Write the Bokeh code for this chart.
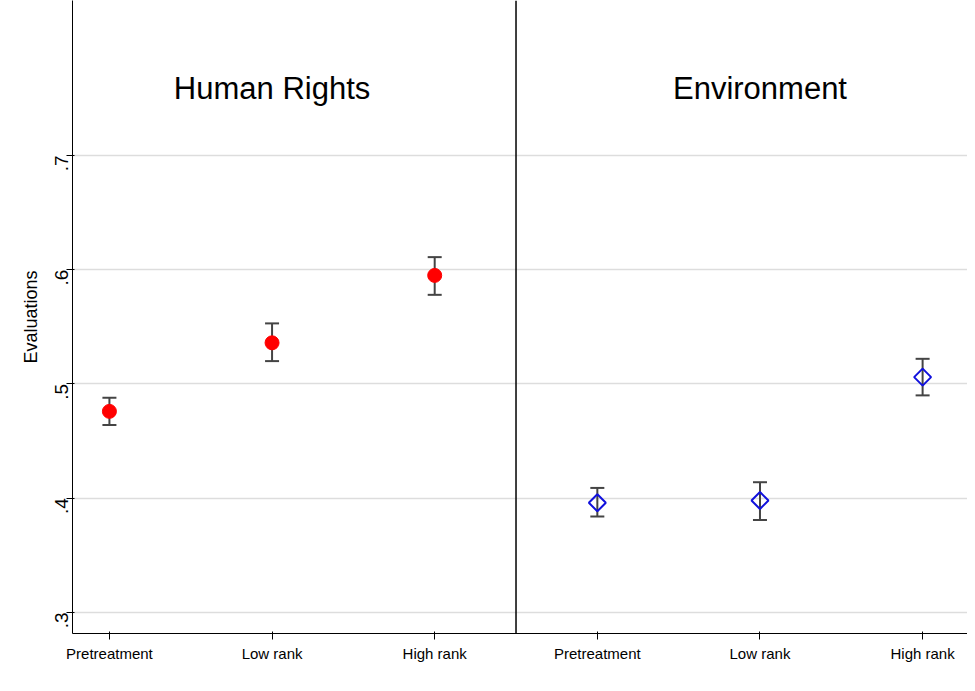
import math
from bokeh.plotting import figure
from bokeh.models import Whisker, ColumnDataSource, Span, Label, FixedTicker, Range1d
from bokeh.embed import file_html
from bokeh.resources import INLINE

categories = ["Pretreatment", "Low rank", "High rank"]
hr_mean = [0.476, 0.536, 0.595]
hr_low = [0.464, 0.520, 0.578]
hr_high = [0.488, 0.553, 0.611]
env_mean = [0.396, 0.398, 0.506]
env_low = [0.384, 0.381, 0.490]
env_high = [0.409, 0.414, 0.522]
panels = ["Human Rights", "Environment"]
yticks = [0.3, 0.4, 0.5, 0.6, 0.7]

p = figure(width=967, height=668, output_backend="svg", toolbar_location=None,
           x_range=Range1d(-0.227, 5.276), y_range=Range1d(0.2816, 0.8356),
           min_border_left=72, min_border_right=0, min_border_top=0, min_border_bottom=35)
p.outline_line_color = None
p.xgrid.grid_line_color = None
p.ygrid.grid_line_color = "#dddddd"
p.ygrid.grid_line_width = 1.5
p.yaxis.ticker = FixedTicker(ticks=yticks)
p.yaxis.major_label_overrides = {v: ("%.1f" % v)[1:] for v in yticks}
p.yaxis.major_label_orientation = math.pi / 2
p.yaxis.axis_label = "Evaluations"
p.xaxis.ticker = FixedTicker(ticks=list(range(6)))
p.xaxis.major_label_overrides = {i: categories[i % 3] for i in range(6)}
for ax in (p.xaxis, p.yaxis):
    ax.axis_line_color = "black"
    ax.major_tick_line_color = "black"
    ax.minor_tick_line_color = None
    ax.major_label_text_font = "Arial"
    ax.major_label_text_color = "black"
    ax.major_label_text_font_size = "15px"
    ax.axis_label_text_font = "Arial"
    ax.axis_label_text_color = "black"
    ax.axis_label_text_font_style = "normal"
    ax.axis_label_text_font_size = "18px"
p.yaxis.major_label_text_font_size = "19px"

xs_hr = [0, 1, 2]
xs_env = [3, 4, 5]
src = ColumnDataSource(dict(x=xs_hr + xs_env, lo=hr_low + env_low, hi=hr_high + env_high))
w = Whisker(base="x", lower="lo", upper="hi", source=src, line_color="#444444", line_width=2)
w.upper_head.size = 14; w.lower_head.size = 14
w.upper_head.line_color = "#444444"; w.lower_head.line_color = "#444444"
w.upper_head.line_width = 2; w.lower_head.line_width = 2
p.add_layout(w)

p.scatter(xs_hr, hr_mean, marker="circle", size=14, fill_color="#ff0000", line_color="#ff0000")
p.scatter(xs_env, env_mean, marker="square", angle=math.pi / 4, size=12, fill_color=None,
          line_color="#1010dd", line_width=2)

p.add_layout(Span(location=2.5, dimension="height", line_color="black", line_width=1.5))
for i, t in enumerate(panels):
    p.add_layout(Label(x=1 + 3 * i, y=0.759, text=t, text_align="center", text_baseline="middle",
                       text_font="Arial", text_font_size="31px", text_color="black"))

open("out.html", "w").write(file_html(p, INLINE))
